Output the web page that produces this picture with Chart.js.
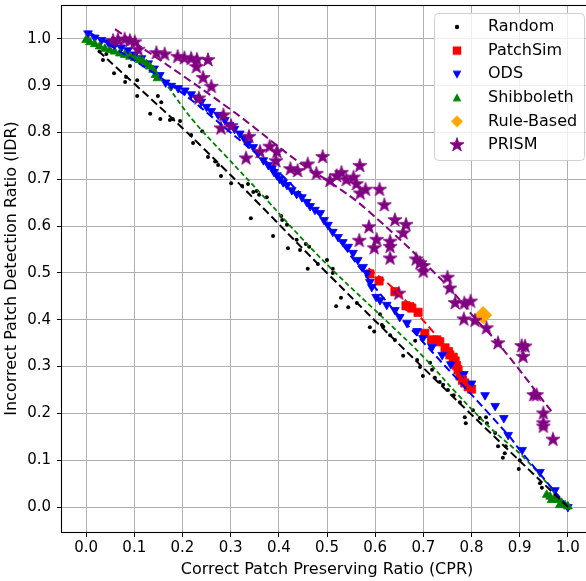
<!DOCTYPE html>
<html>
<head>
<meta charset="utf-8">
<script src="https://cdn.jsdelivr.net/npm/chart.js@4.4.1/dist/chart.umd.min.js"></script>
<style>
html,body{margin:0;padding:0;overflow:hidden;background:#fff;width:586px;height:581px}
#wrap{position:absolute;left:0;top:0;width:600px;height:581px}
</style>
</head>
<body>
<div id="wrap"><canvas id="c" width="600" height="581"></canvas></div>
<script>
// ---------- data ----------
const seriesNames = ['Random', 'PatchSim', 'ODS', 'Shibboleth', 'Rule-Based', 'PRISM'];
const xTicks = [0.0, 0.1, 0.2, 0.3, 0.4, 0.5, 0.6, 0.7, 0.8, 0.9, 1.0];
const yTicks = [0.0, 0.1, 0.2, 0.3, 0.4, 0.5, 0.6, 0.7, 0.8, 0.9, 1.0];

const randomCPR = [
  0.028,0.042,0.035,0.058,0.083,0.081,0.091,0.106,0.106,0.149,
  0.156,0.133,0.154,0.174,0.180,0.195,0.218,0.222,0.241,0.253,
  0.268,0.274,0.280,0.301,0.324,0.336,0.347,0.354,0.359,0.375,
  0.342,0.405,0.407,0.417,0.388,0.419,0.437,0.444,0.456,0.463,
  0.481,0.500,0.460,0.512,0.512,0.529,0.519,0.544,0.562,0.589,
  0.598,0.610,0.617,0.614,0.631,0.641,0.658,0.683,0.687,0.693,
  0.699,0.714,0.718,0.724,0.734,0.741,0.751,0.763,0.776,0.786,
  0.788,0.803,0.817,0.830,0.832,0.849,0.855,0.871,0.869,0.865,
  0.898,0.900,0.942,0.946,0.979,0.994];
const randomIDR = [
  0.973,0.968,0.955,0.927,0.919,0.908,0.942,0.912,0.878,0.878,
  0.865,0.840,0.829,0.827,0.829,0.825,0.795,0.778,0.803,0.748,
  0.738,0.731,0.707,0.692,0.686,0.690,0.673,0.675,0.667,0.662,
  0.617,0.622,0.613,0.603,0.579,0.553,0.571,0.549,0.562,0.556,
  0.519,0.528,0.509,0.509,0.500,0.447,0.429,0.427,0.436,0.384,
  0.375,0.412,0.385,0.389,0.367,0.357,0.323,0.355,0.314,0.299,
  0.280,0.308,0.293,0.276,0.267,0.261,0.250,0.239,0.224,0.192,
  0.179,0.207,0.190,0.192,0.179,0.158,0.130,0.130,0.115,0.105,
  0.081,0.100,0.051,0.041,0.019,0.005];

const patchSimCPR = [
  0.589,0.608,0.641,0.664,0.672,0.676,0.689,0.703,0.717,0.728,
  0.734,0.745,0.752,0.755,0.762,0.766,0.769,0.772,0.776,0.781,
  0.786,0.793,0.800];
const patchSimIDR = [
  0.498,0.483,0.460,0.430,0.428,0.425,0.416,0.371,0.357,0.357,
  0.353,0.340,0.332,0.325,0.320,0.312,0.302,0.293,0.280,0.271,
  0.265,0.257,0.252];

const odsCPR = [
  0.004,0.018,0.032,0.046,0.059,0.073,0.087,0.101,0.115,0.129,
  0.141,0.153,0.165,0.177,0.191,0.205,0.218,0.229,0.239,0.250,
  0.260,0.274,0.288,0.298,0.308,0.319,0.328,0.336,0.347,0.357,
  0.368,0.378,0.386,0.390,0.396,0.402,0.409,0.417,0.427,0.437,
  0.448,0.458,0.465,0.475,0.486,0.494,0.502,0.512,0.523,0.533,
  0.544,0.554,0.564,0.575,0.583,0.589,0.593,0.602,0.610,0.624,
  0.641,0.651,0.666,0.687,0.699,0.718,0.739,0.757,0.784,0.800,
  0.828,0.849,0.867,0.876,0.905,0.942,0.973,1.000];
const odsIDR = [
  1.012,1.003,0.998,0.993,0.987,0.982,0.976,0.967,0.959,0.948,
  0.937,0.923,0.907,0.900,0.895,0.890,0.882,0.875,0.866,0.855,
  0.846,0.838,0.827,0.816,0.808,0.798,0.788,0.777,0.769,0.756,
  0.741,0.731,0.724,0.716,0.709,0.701,0.694,0.688,0.677,0.669,
  0.662,0.652,0.643,0.635,0.628,0.613,0.603,0.588,0.577,0.566,
  0.556,0.543,0.528,0.513,0.500,0.481,0.470,0.449,0.442,0.432,
  0.421,0.406,0.393,0.376,0.361,0.342,0.325,0.305,0.284,0.264,
  0.239,0.216,0.190,0.154,0.122,0.075,0.036,0.000];

const shibbolethCPR = [
  0.000,0.008,0.018,0.028,0.039,0.049,0.059,0.070,0.080,0.091,
  0.101,0.111,0.118,0.125,0.132,0.139,0.144,0.148,0.956,0.963,
  0.966,0.973,0.979,0.983,0.987,0.994,1.000];
const shibbolethIDR = [
  0.998,0.993,0.989,0.984,0.979,0.976,0.973,0.969,0.966,0.962,
  0.959,0.955,0.952,0.946,0.941,0.934,0.923,0.916,0.026,0.022,
  0.015,0.019,0.015,0.004,0.009,0.004,0.001];

const ruleBasedCPR = [0.824];
const ruleBasedIDR = [0.410];

const prismCPR = [
  0.056,0.066,0.080,0.091,0.101,0.108,0.146,0.163,0.190,0.204,
  0.218,0.230,0.253,0.229,0.243,0.260,0.234,0.285,0.280,0.301,
  0.338,0.361,0.381,0.396,0.394,0.332,0.424,0.439,0.460,0.478,
  0.491,0.506,0.520,0.530,0.540,0.555,0.561,0.568,0.580,0.569,
  0.609,0.619,0.641,0.664,0.658,0.587,0.567,0.603,0.631,0.631,
  0.598,0.631,0.685,0.693,0.700,0.700,0.649,0.750,0.755,0.766,
  0.785,0.798,0.784,0.807,0.831,0.855,0.904,0.911,0.907,0.929,
  0.935,0.949,0.949,0.949,0.969];
const prismIDR = [
  0.996,0.998,0.999,0.996,0.993,0.977,0.970,0.967,0.962,0.959,
  0.958,0.956,0.955,0.940,0.917,0.898,0.873,0.837,0.809,0.814,
  0.791,0.759,0.770,0.759,0.739,0.745,0.722,0.718,0.732,0.712,
  0.748,0.697,0.707,0.714,0.699,0.704,0.690,0.729,0.678,0.670,
  0.678,0.645,0.613,0.603,0.585,0.598,0.569,0.571,0.567,0.556,
  0.553,0.531,0.529,0.521,0.515,0.503,0.456,0.490,0.467,0.436,
  0.435,0.439,0.401,0.398,0.382,0.350,0.344,0.343,0.321,0.239,
  0.239,0.200,0.179,0.172,0.144];

// dashed trend curves
const randomFitCPR = [0.025, 0.24, 0.5, 0.75, 1.0];
const randomFitIDR = [0.975, 0.77, 0.5, 0.247, 0.0];
const patchSimFitCPR = [0.586, 0.64, 0.69, 0.75, 0.805];
const patchSimFitIDR = [0.51, 0.465, 0.41, 0.335, 0.245];
const odsFitCPR = [0.004, 0.176, 0.3, 0.444, 0.61, 0.651, 0.876, 0.9, 1.0];
const odsFitIDR = [1.016, 0.902, 0.80, 0.67, 0.456, 0.407, 0.154, 0.122, 0.0];
const shibbolethFitCPR = [0.17, 0.222, 0.288, 0.375, 0.444, 0.512, 0.631, 0.7, 0.769, 0.838, 0.914, 0.99];
const shibbolethFitIDR = [0.898, 0.826, 0.752, 0.656, 0.578, 0.506, 0.39, 0.321, 0.243, 0.17, 0.1, 0.01];
const prismFitCPR = [0.06, 0.299, 0.444, 0.512, 0.583, 0.741, 0.81, 0.855, 0.967];
const prismFitIDR = [1.021, 0.85, 0.735, 0.69, 0.635, 0.482, 0.40, 0.35, 0.203];

// ---------- helpers ----------
const pts = (xs, ys) => xs.map((x, i) => ({x: x, y: ys[i]}));
const FONT = 'DejaVu Sans';
Chart.defaults.font.family = FONT;
Chart.defaults.color = '#000';

const COLORS = {
  random: '#000000', patchSim: '#ff0000', ods: '#0000ff',
  shib: '#008000', rule: '#ffa500', prism: '#800080'
};

function markerCanvas(size, drawFn) {
  const c = document.createElement('canvas');
  c.width = size; c.height = size;
  const g = c.getContext('2d');
  drawFn(g, size / 2);
  return c;
}
function starPath(g, cx, cy, R, r) {
  g.beginPath();
  for (let k = 0; k < 10; k++) {
    const ang = -Math.PI / 2 + k * Math.PI / 5;
    const rad = (k % 2 === 0) ? R : r;
    const px = cx + rad * Math.cos(ang), py = cy + rad * Math.sin(ang);
    if (k === 0) g.moveTo(px, py); else g.lineTo(px, py);
  }
  g.closePath();
}
const starImg = markerCanvas(18, (g, c) => {
  starPath(g, c, c, 7.4, 2.9);
  g.fillStyle = COLORS.prism; g.fill();
  g.lineWidth = 0.8; g.strokeStyle = COLORS.prism; g.stroke();
});
const legendMarkers = [
  markerCanvas(8, (g, c) => { g.beginPath(); g.arc(c, c, 2.2, 0, Math.PI * 2); g.fillStyle = COLORS.random; g.fill(); }),
  markerCanvas(12, (g, c) => { g.fillStyle = COLORS.patchSim; g.fillRect(c - 4.2, c - 4.2, 8.4, 8.4); }),
  markerCanvas(12, (g, c) => { g.beginPath(); g.moveTo(c - 4.4, c - 3.6); g.lineTo(c + 4.4, c - 3.6); g.lineTo(c, c + 4.4); g.closePath(); g.fillStyle = COLORS.ods; g.fill(); }),
  markerCanvas(12, (g, c) => { g.beginPath(); g.moveTo(c - 4.4, c + 3.6); g.lineTo(c + 4.4, c + 3.6); g.lineTo(c, c - 4.4); g.closePath(); g.fillStyle = COLORS.shib; g.fill(); }),
  markerCanvas(14, (g, c) => { g.beginPath(); g.moveTo(c, c - 6); g.lineTo(c + 6, c); g.lineTo(c, c + 6); g.lineTo(c - 6, c); g.closePath(); g.fillStyle = COLORS.rule; g.fill(); }),
  starImg
];

function scatterSet(label, xs, ys, color, style, radius, order, extra) {
  return Object.assign({
    label: label, data: pts(xs, ys), order: order,
    pointStyle: style, pointRadius: radius, pointHoverRadius: radius,
    backgroundColor: color, borderColor: color, pointBorderWidth: 0.8,
    showLine: false
  }, extra || {});
}
function fitSet(label, xs, ys, color, dash, width) {
  return {
    label: label, data: pts(xs, ys), order: 0, showLine: true,
    pointRadius: 0, borderColor: color, backgroundColor: color,
    borderWidth: width, borderDash: dash, tension: 0.4, fill: false
  };
}

const datasets = [
  scatterSet(seriesNames[0], randomCPR, randomIDR, COLORS.random, 'circle', 2, 6, {pointBorderWidth: 0}),
  scatterSet(seriesNames[1], patchSimCPR, patchSimIDR, COLORS.patchSim, 'rect', 5.8, 5),
  scatterSet(seriesNames[2], odsCPR, odsIDR, COLORS.ods, 'triangle', 5, 4, {pointRotation: 180}),
  scatterSet(seriesNames[3], shibbolethCPR, shibbolethIDR, COLORS.shib, 'triangle', 5, 3),
  scatterSet(seriesNames[4], ruleBasedCPR, ruleBasedIDR, COLORS.rule, 'rectRot', 8.6, 2),
  scatterSet(seriesNames[5], prismCPR, prismIDR, COLORS.prism, starImg, 7, 1),
  fitSet('Random fit', randomFitCPR, randomFitIDR, COLORS.random, [8, 4], 2),
  fitSet('PatchSim fit', patchSimFitCPR, patchSimFitIDR, COLORS.patchSim, [8, 4], 2),
  fitSet('ODS fit', odsFitCPR, odsFitIDR, COLORS.ods, [8, 4], 2),
  fitSet('Shibboleth fit', shibbolethFitCPR, shibbolethFitIDR, COLORS.shib, [5, 3], 1.8),
  fitSet('PRISM fit', prismFitCPR, prismFitIDR, COLORS.prism, [8, 4], 2)
];

// ---------- plugins ----------
const LEGEND_BOX = {x: 434, y: 13, w: 150, h: 147};
const frameAndLegend = {
  id: 'frameAndLegend',
  afterLayout(chart) {
    const lg = chart.legend;
    if (!lg) return;
    lg.left = 426.4; lg.top = 11.4;
    lg.right = lg.left + 175; lg.bottom = lg.top + 160;
    if (!lg._framePatched) {
      const orig = lg.draw;
      lg.draw = function (area) {
        const ctx = chart.ctx;
        ctx.save();
        ctx.beginPath();
        if (ctx.roundRect) ctx.roundRect(LEGEND_BOX.x + 0.5, LEGEND_BOX.y + 0.5, LEGEND_BOX.w, LEGEND_BOX.h, 4);
        else ctx.rect(LEGEND_BOX.x + 0.5, LEGEND_BOX.y + 0.5, LEGEND_BOX.w, LEGEND_BOX.h);
        ctx.fillStyle = 'rgba(255,255,255,0.8)';
        ctx.fill();
        ctx.lineWidth = 1;
        ctx.strokeStyle = '#d0d0d0';
        ctx.stroke();
        ctx.restore();
        orig.call(this, area);
      };
      lg._framePatched = true;
    }
  },
  afterDraw(chart) {
    const a = chart.chartArea, ctx = chart.ctx;
    ctx.save();
    ctx.strokeStyle = '#000';
    ctx.lineWidth = 1.1;
    ctx.strokeRect(Math.round(a.left) - 0.5, Math.round(a.top) + 0.5, Math.round(a.right - a.left), Math.round(a.bottom - a.top));
    ctx.restore();
  }
};

const fmt = v => Number(v).toFixed(1);

new Chart(document.getElementById('c'), {
  type: 'scatter',
  data: {datasets: datasets},
  plugins: [frameAndLegend],
  options: {
    responsive: false,
    animation: false,
    events: [],
    layout: {autoPadding: false, padding: {top: 5, right: 8, bottom: 0, left: 0}},
    plugins: {
      tooltip: {enabled: false},
      legend: {
        display: true,
        position: 'chartArea',
        align: 'start',
        onClick: null,
        labels: {
          usePointStyle: true,
          pointStyleWidth: 46,
          padding: 7.6,
          color: '#000',
          font: {family: FONT, size: 16},
          generateLabels: () => seriesNames.map((n, i) => ({
            text: n, pointStyle: legendMarkers[i], datasetIndex: i, hidden: false,
            fillStyle: '#000', strokeStyle: 'rgba(0,0,0,0)', lineWidth: 0, fontColor: '#000'
          }))
        }
      }
    },
    scales: {
      x: {
        type: 'linear', min: -0.05, max: 1.05,
        afterBuildTicks: s => { s.ticks = xTicks.map(v => ({value: v})); },
        afterFit: s => { s.height = 49; s.paddingLeft = 0; s.paddingRight = 0; },
        ticks: {callback: fmt, font: {family: FONT, size: 15}, color: '#000', padding: 2, maxRotation: 0, includeBounds: false},
        grid: {color: '#b0b0b0', lineWidth: 1, tickLength: 5, tickColor: '#000', tickWidth: 1},
        border: {display: false},
        title: {display: true, text: 'Correct Patch Preserving Ratio (CPR)', font: {family: FONT, size: 16}, color: '#000', padding: {top: 0, bottom: 2}}
      },
      y: {
        type: 'linear', min: -0.0534, max: 1.0726,
        afterBuildTicks: s => { s.ticks = yTicks.map(v => ({value: v})); },
        afterFit: s => { s.width = 62; s.paddingTop = 0; s.paddingBottom = 0; },
        ticks: {callback: fmt, font: {family: FONT, size: 15}, color: '#000', padding: 6, includeBounds: false},
        grid: {color: '#b0b0b0', lineWidth: 1, tickLength: 5, tickColor: '#000', tickWidth: 1},
        border: {display: false},
        title: {display: true, text: 'Incorrect Patch Detection Ratio (IDR)', font: {family: FONT, size: 16}, color: '#000', padding: {top: 2.4, bottom: 0}}
      }
    }
  }
});
</script>
</body>
</html>
